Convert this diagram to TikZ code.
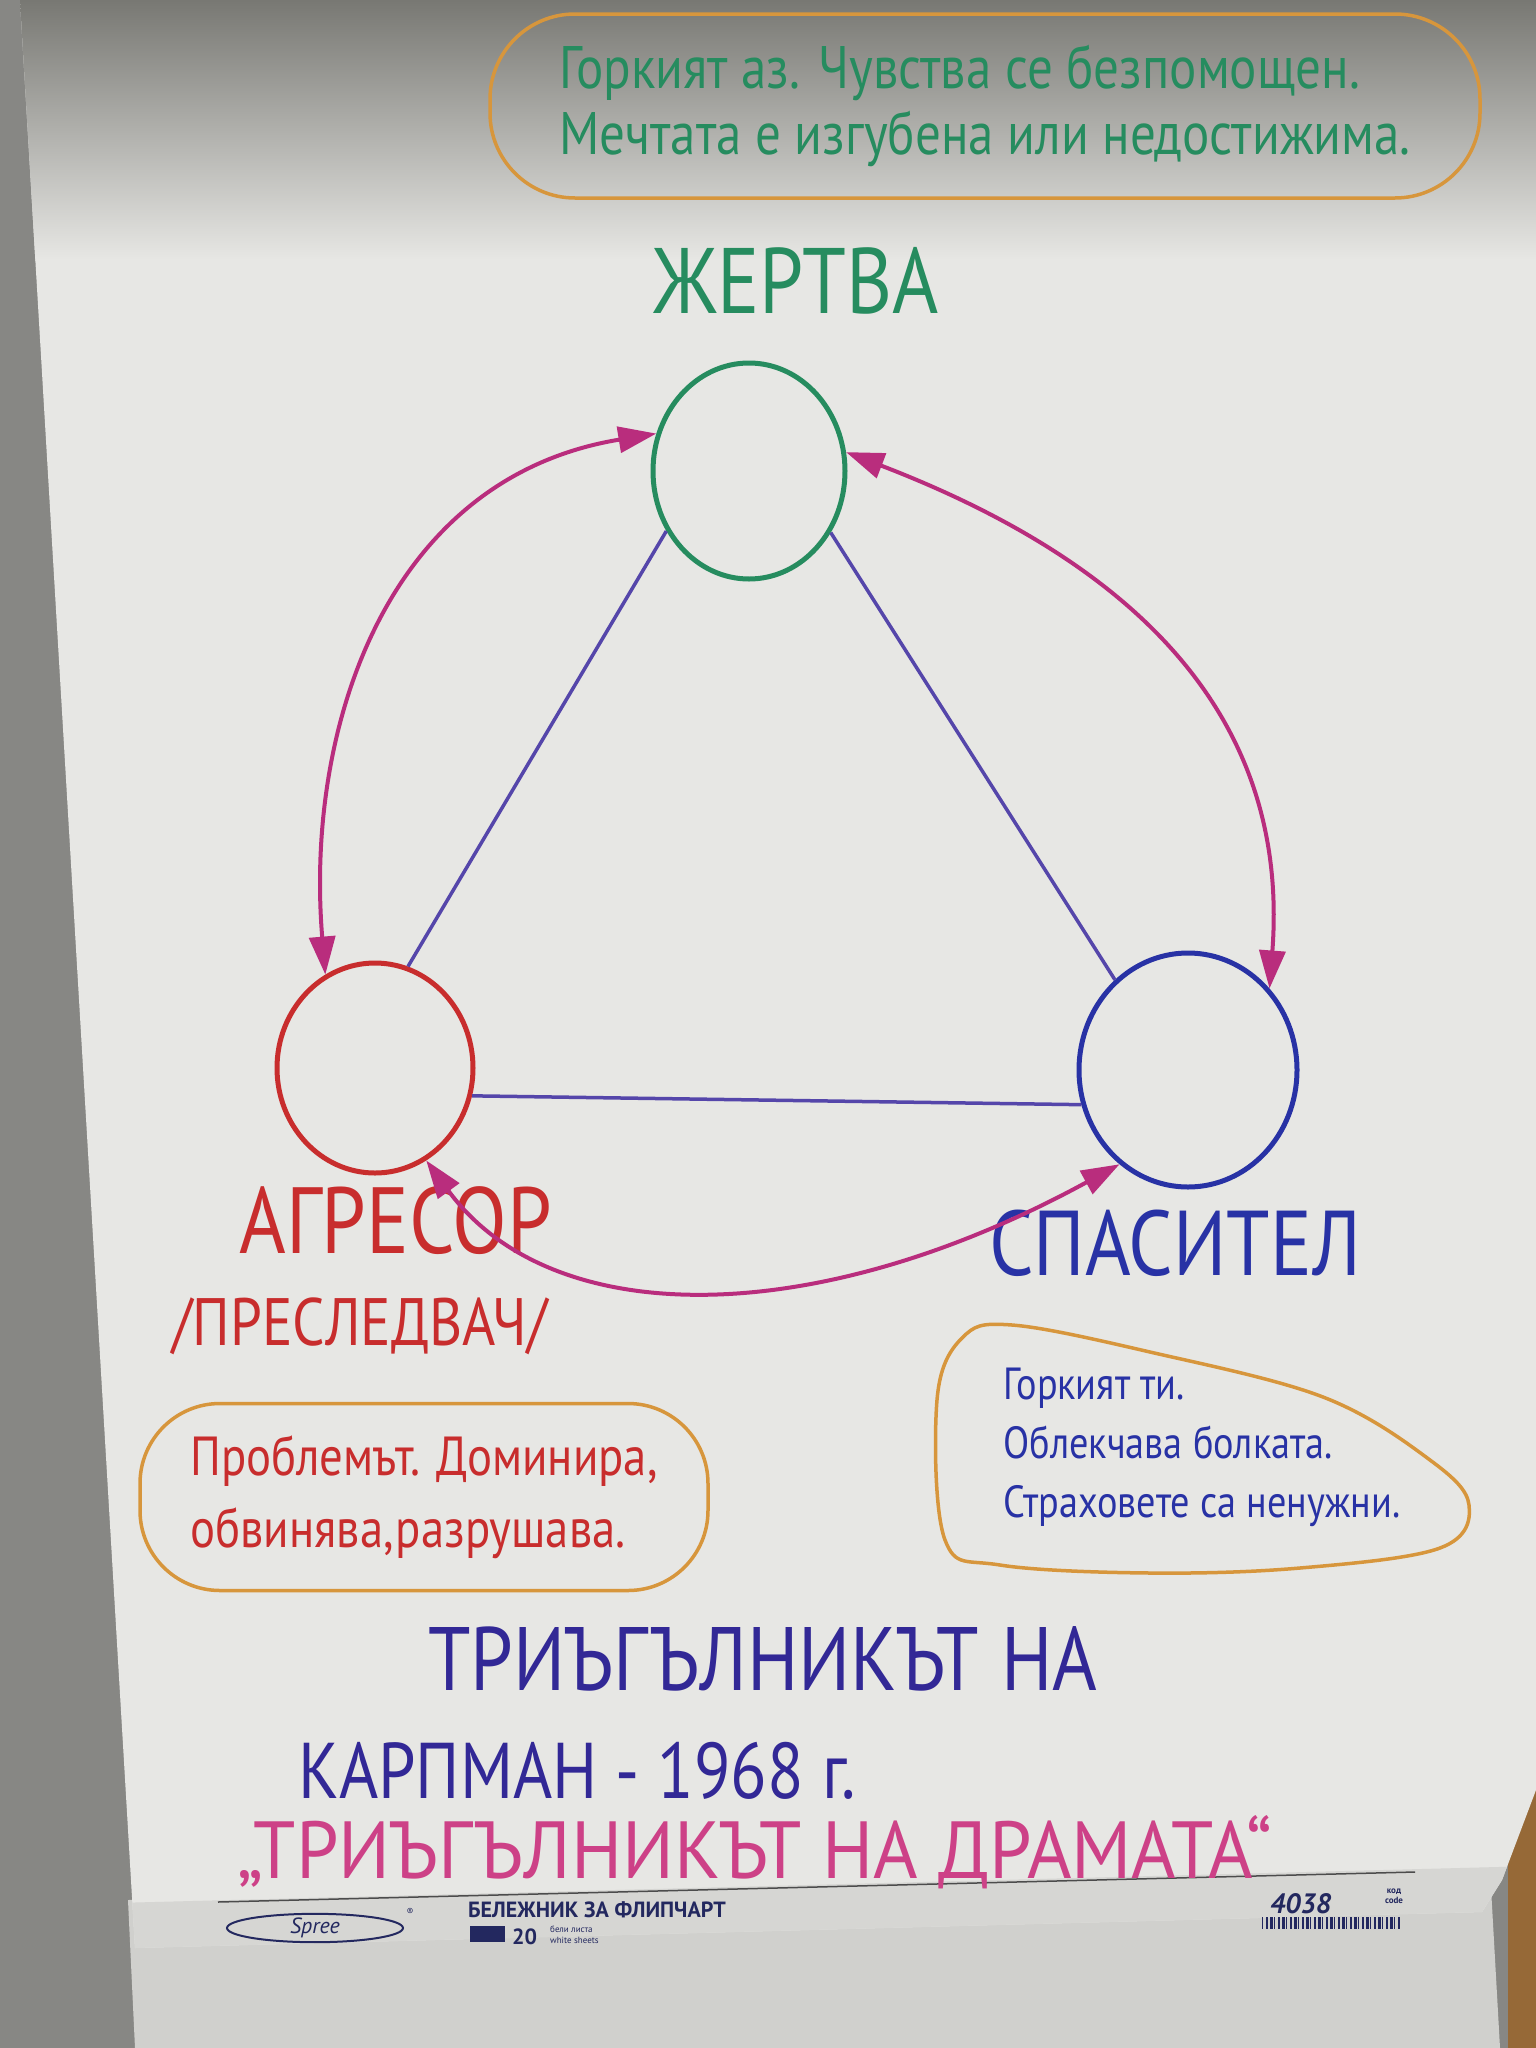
\documentclass[tikz,border=0pt]{standalone}
\usepackage{fontspec}
\setmainfont{PT Sans}
\newfontfamily\marker[FakeStretch=0.85]{PT Sans}
\newfontfamily\widemarker[FakeStretch=0.94]{PT Sans}
\usetikzlibrary{arrows.meta,shapes.geometric}
\definecolor{victimgreen}{RGB}{38,140,95}
\definecolor{persecred}{RGB}{200,45,45}
\definecolor{rescueblue}{RGB}{40,50,165}
\definecolor{sideblue}{RGB}{85,70,170}
\definecolor{swapmagenta}{RGB}{185,45,125}
\definecolor{noteorange}{RGB}{215,150,60}
\definecolor{titleblue}{RGB}{50,40,150}
\definecolor{titlepink}{RGB}{205,65,135}
\definecolor{paper}{RGB}{231,231,228}
\definecolor{papertop}{RGB}{120,120,115}
\definecolor{paperfold}{RGB}{214,214,211}
\definecolor{wall}{RGB}{135,135,132}
\definecolor{lowersheet}{RGB}{208,208,205}
\definecolor{wood}{RGB}{150,105,55}
\definecolor{printnavy}{RGB}{35,40,95}

\begin{document}
\begin{tikzpicture}[x=1pt,y=-1pt,
  role/.style={ellipse,draw,line width=5pt,inner sep=0pt},
  rolename/.style={font=\marker\fontsize{#1}{#1}\selectfont,anchor=base,inner sep=0pt},
  side/.style={draw=sideblue,line width=3.5pt},
  swap/.style={draw=swapmagenta,line width=4pt,>={Triangle[length=38pt,width=26pt]},<->},
  note/.style={draw=noteorange,line width=3.5pt,align=left,inner sep=0pt},
  title/.style={anchor=base west,inner sep=0pt,font=\marker\fontsize{#1}{#1}\selectfont},
  print/.style={text=printnavy,inner sep=0pt}]

\useasboundingbox (0,0) rectangle (1536,2048);
\fill[wall] (0,0) rectangle (1536,2048);
\fill[lowersheet] (128,1900) -- (1490,1870) -- (1500,2048) -- (135,2048) -- cycle;
\fill[wood] (1508,1790) rectangle (1536,2048);
\begin{scope}
  \clip (20,0) -- (1536,0) -- (1536,1790) -- (1502,1880) -- (1482,1912) -- (135,1948) -- cycle;
  \fill[paper] (0,0) rectangle (1536,2048);
  \shade[top color=papertop,bottom color=paper] (0,0) rectangle (1536,260);
  \fill[paperfold] (0,1906) -- (1536,1866) -- (1536,2048) -- (0,2048) -- cycle;
\end{scope}
\draw[gray!60!black,line width=1.5pt] (218,1902) -- (1415,1872);

\node[role,draw=victimgreen,minimum width=192pt,minimum height=216pt] (zh) at (749,471) {};
\node[role,draw=persecred,minimum width=196pt,minimum height=210pt] (ag) at (375,1068) {};
\node[role,draw=rescueblue,minimum width=218pt,minimum height=234pt] (sp) at (1188,1070) {};

\node[rolename=93,text=victimgreen] (zhname) at (796,313) {ЖЕРТВА};
\node[rolename=94,text=persecred] (agname) at (396,1253) {АГРЕСОР};
\node[rolename=67,text=persecred] (agalt) at (360,1345) {/ПРЕСЛЕДВАЧ/};
\node[rolename=92,text=rescueblue] (spname) at (1175,1275) {СПАСИТЕЛ};

\draw[side] (zh.216) -- (ag.72);
\draw[side] (zh.-37) -- (sp.129);
\draw[side] (ag.-16) -- (sp.198);

\draw[swap] (zh.158) .. controls (385,478) and (305,730) .. (ag.118);
\draw[swap] (zh.11) .. controls (1140,565) and (1290,720) .. (sp.45);
\draw[swap] (ag.-61) .. controls (551,1331) and (814,1331) .. (sp.234);

\node[note,rounded corners=85pt,minimum width=990pt,minimum height=184pt,text=victimgreen,
  font=\marker\fontsize{60}{66}\selectfont] (zhnote) at (985,106)
  {Горкият аз. Чувства се безпомощен.\\Мечтата е изгубена или недостижима.};
\node[note,rounded corners=80pt,minimum width=568pt,minimum height=187pt,text=persecred,
  font=\marker\fontsize{55}{72}\selectfont] (agnote) at (424,1497)
  {Проблемът. Доминира,\\обвинява,разрушава.};
\node[align=left,inner sep=0pt,text=rescueblue,font=\marker\fontsize{45}{59}\selectfont] (spnote) at (1202,1447)
  {Горкият ти.\\Облекчава болката.\\Страховете са ненужни.};
\draw[noteorange,line width=3.5pt] plot[smooth cycle,tension=0.6] coordinates {
  (937,1400) (962,1338) (1012,1325) (1150,1352) (1323,1397) (1430,1460) (1469,1505)
  (1440,1548) (1300,1568) (1150,1573) (1000,1565) (945,1540)};

\node[title=90,text=titleblue] (title) at (428,1690) {ТРИЪГЪЛНИКЪТ\hspace{22pt}НА};
\node[title=79,text=titleblue] (author) at (298,1798) {КАРПМАН - 1968 г.};
\node[title=81,text=titlepink,font=\widemarker\fontsize{81}{81}\selectfont] (subtitle) at (237,1878) {„ТРИЪГЪЛНИКЪТ НА ДРАМАТА“};

\node[print,ellipse,draw=printnavy,line width=2pt,minimum width=176pt,minimum height=28pt,
  font=\itshape\fontsize{22}{22}\selectfont] (logo) at (315,1928) {Spree};
\node[print,font=\fontsize{10}{10}\selectfont] (reg) at (410,1912) {\textregistered};
\node[print,anchor=base west,font=\bfseries\fontsize{22}{22}\selectfont] (padname) at (468,1917) {БЕЛЕЖНИК ЗА ФЛИПЧАРТ};
\fill[printnavy] (470,1926) rectangle (505,1942);
\node[print,anchor=base west,font=\bfseries\fontsize{22}{22}\selectfont] (sheets) at (512,1944) {20};
\node[print,anchor=base west,font=\fontsize{9}{9}\selectfont] (sheetsbg) at (550,1932) {бели листа};
\node[print,anchor=base west,font=\fontsize{9}{9}\selectfont] (sheetsen) at (550,1943) {white sheets};
\node[print,anchor=base west,font=\bfseries\itshape\fontsize{28}{28}\selectfont] (code) at (1270,1913) {4038};
\node[print,align=center,font=\bfseries\fontsize{9}{10}\selectfont] (codename) at (1394,1896) {код\\code};
\foreach \i in {0,...,34}
  \fill[printnavy] ({1262+4*\i},1917) rectangle ++({1+mod(\i*7,3)},12);
\end{tikzpicture}
\end{document}
